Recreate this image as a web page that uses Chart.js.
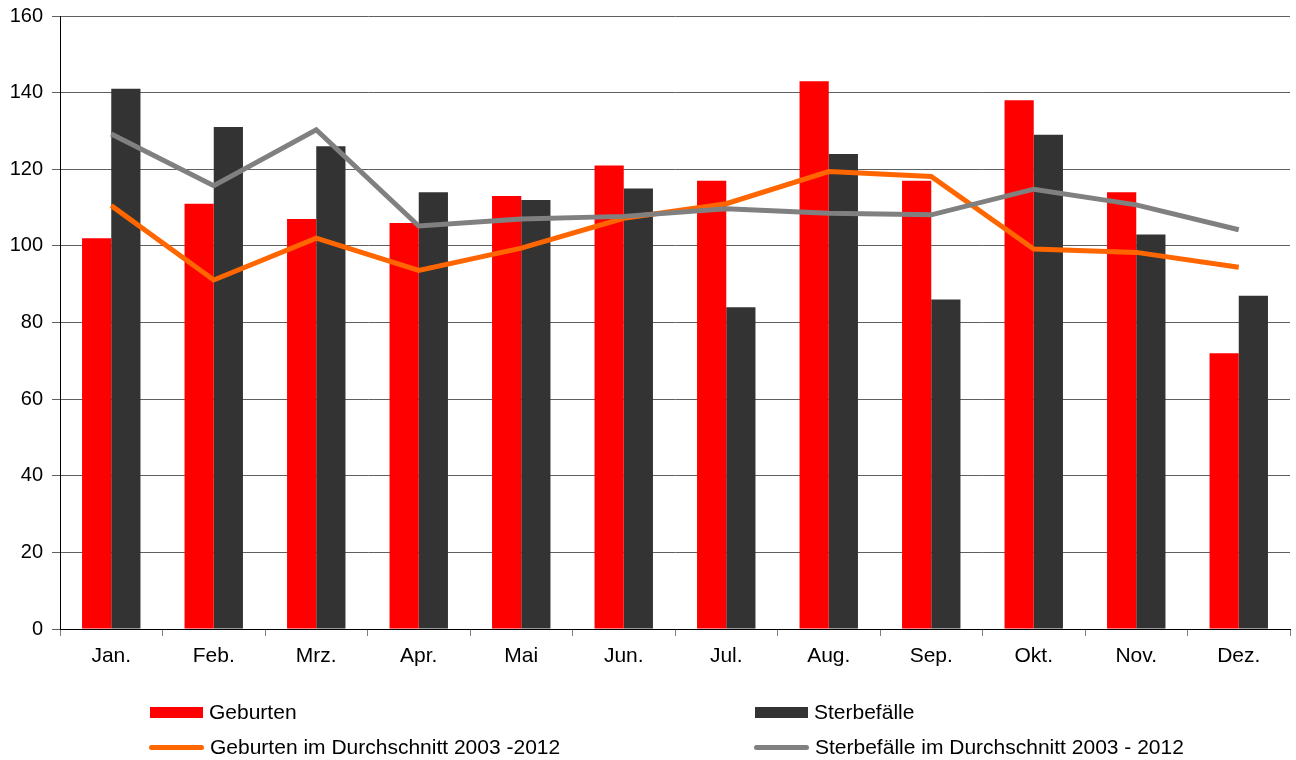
<!DOCTYPE html>
<html>
<head>
<meta charset="utf-8">
<script src="https://cdn.jsdelivr.net/npm/chart.js@4/dist/chart.umd.min.js"></script>
<style>
  html, body { margin: 0; padding: 0; background: #fff; }
  #wrap { position: relative; width: 1296px; height: 760px; }
  #c { position: absolute; left: 0; top: 0; }
  .lg { position: absolute; font-family: "Liberation Sans", Arial, sans-serif; font-size: 21px; color: #000; display: flex; align-items: center; white-space: nowrap; }
  .lg .sw { display: inline-block; width: 54px; margin-right: 6px; }
</style>
</head>
<body>
<div id="wrap">
  <canvas id="c" width="1296" height="760"></canvas>
  <div id="legend"></div>
</div>
<script>
const categories = ["Jan.", "Feb.", "Mrz.", "Apr.", "Mai", "Jun.", "Jul.", "Aug.", "Sep.", "Okt.", "Nov.", "Dez."];
const geburten = [102, 111, 107, 106, 113, 121, 117, 143, 117, 138, 114, 72];
const sterbefaelle = [141, 131, 126, 114, 112, 115, 84, 124, 86, 129, 103, 87];
const geburtenAvg = [110.5, 91.1, 102, 93.6, 99.4, 107.2, 111, 119.4, 118.1, 99.2, 98.3, 94.4];
const sterbefaelleAvg = [129.2, 115.7, 130.3, 105.2, 107, 107.7, 109.7, 108.5, 108.1, 114.8, 110.7, 104.2];
const yTicks = [0, 20, 40, 60, 80, 100, 120, 140, 160];

const seriesLabels = ["Geburten", "Sterbefälle", "Geburten im Durchschnitt 2003 -2012", "Sterbefälle im Durchschnitt 2003 - 2012"];
const colors = ["#FF0000", "#333333", "#FF6600", "#808080"];

const FAMILY = "'Liberation Sans', Arial, sans-serif";

const chart = new Chart(document.getElementById('c'), {
  type: 'bar',
  data: {
    labels: categories,
    datasets: [
      { type: 'bar', label: seriesLabels[0], data: geburten, backgroundColor: colors[0], borderWidth: 0, order: 2, categoryPercentage: 0.57, barPercentage: 1.0 },
      { type: 'bar', label: seriesLabels[1], data: sterbefaelle, backgroundColor: colors[1], borderWidth: 0, order: 2, categoryPercentage: 0.57, barPercentage: 1.0 },
      { type: 'line', label: seriesLabels[2], data: geburtenAvg, borderColor: colors[2], backgroundColor: colors[2], borderWidth: 5, pointRadius: 0, tension: 0, order: 1, borderJoinStyle: 'miter' },
      { type: 'line', label: seriesLabels[3], data: sterbefaelleAvg, borderColor: colors[3], backgroundColor: colors[3], borderWidth: 5, pointRadius: 0, tension: 0, order: 0, borderJoinStyle: 'miter' }
    ]
  },
  options: {
    responsive: false,
    animation: false,
    devicePixelRatio: 1,
    layout: { padding: { top: 16, right: 6, left: 0, bottom: 81 } },
    plugins: { legend: { display: false }, tooltip: { enabled: false } },
    scales: {
      x: {
        offset: true,
        grid: { offset: true, drawOnChartArea: false, drawTicks: true, tickLength: 7, color: '#808080' },
        border: { display: true, color: '#000', width: 1 },
        ticks: { font: { family: FAMILY, size: 21 }, color: '#000', padding: 8, maxRotation: 0 },
        afterFit: s => { s.height = 50; s.paddingLeft = 0; s.paddingRight = 0; }
      },
      y: {
        min: 0, max: 160,
        afterBuildTicks: s => { s.ticks = yTicks.map(v => ({ value: v })); },
        grid: { color: '#606060', lineWidth: 1, drawTicks: true, tickLength: 8 },
        border: { display: true, color: '#000', width: 1 },
        ticks: { font: { family: FAMILY, size: 20 }, color: '#000', padding: 9 },
        afterFit: s => { s.width = 60; s.paddingTop = 0; s.paddingBottom = 0; }
      }
    }
  }
});

// HTML legend built from the chart datasets
const legend = document.getElementById('legend');
const pos = [
  { left: 150, top: 712 },
  { left: 755, top: 712 },
  { left: 149, top: 747 },
  { left: 754, top: 747 }
];
chart.data.datasets.forEach((ds, i) => {
  const d = document.createElement('div');
  d.className = 'lg';
  d.style.left = pos[i].left + 'px';
  d.style.top = (pos[i].top - 12) + 'px';
  d.style.height = '24px';
  const sw = document.createElement('span');
  sw.className = 'sw';
  const isLine = ds.type === 'line';
  sw.style.height = isLine ? '5px' : '11px';
  sw.style.background = isLine ? ds.borderColor : ds.backgroundColor;
  if (isLine) { sw.style.borderRadius = '3px'; sw.style.width = '55px'; }
  else { sw.style.width = '53px'; sw.style.marginRight = '6px'; }
  d.appendChild(sw);
  const t = document.createElement('span');
  t.textContent = ds.label;
  d.appendChild(t);
  legend.appendChild(d);
});
</script>
</body>
</html>
